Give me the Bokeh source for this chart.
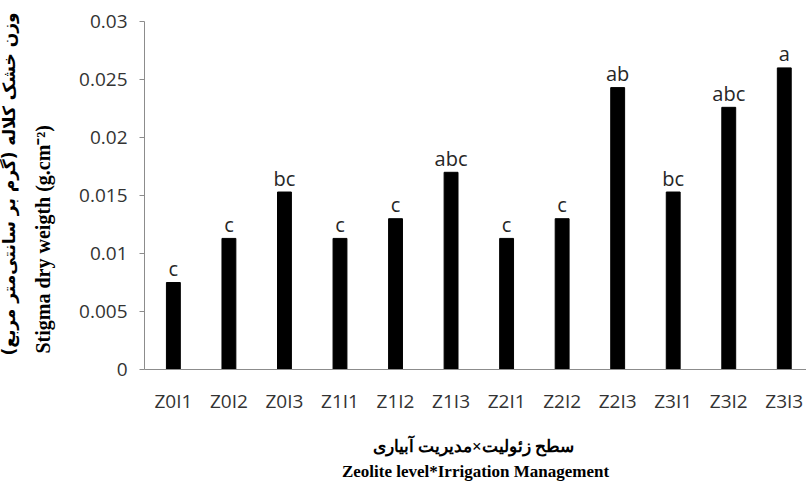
from bokeh.plotting import figure
from bokeh.models import Range1d, FixedTicker, Title
from bokeh.core.properties import value
from bokeh.embed import file_html
from bokeh.resources import INLINE

categories = ["Z0I1", "Z0I2", "Z0I3", "Z1I1", "Z1I2", "Z1I3",
              "Z2I1", "Z2I2", "Z2I3", "Z3I1", "Z3I2", "Z3I3"]
values = [0.0075, 0.0113, 0.0153, 0.0113, 0.0130, 0.0170,
          0.0113, 0.0130, 0.0243, 0.0153, 0.0226, 0.0260]
letters = ["c", "c", "bc", "c", "c", "abc", "c", "c", "ab", "bc", "abc", "a"]
y_ticks = [0, 0.005, 0.01, 0.015, 0.02, 0.025, 0.03]
y_tick_labels = ["0", "0.005", "0.01", "0.015", "0.02", "0.025", "0.03"]

y_title_fa = "وزن خشک کلاله (گرم بر سانتی‌متر مربع)"
y_title_en = "Stigma dry weigth (g.cm⁻²)"
x_title_fa = "سطح زئولیت×مدیریت  آبیاری"
x_title_en = "Zeolite level*Irrigation Management"

xs = list(range(len(categories)))

p = figure(width=806, height=483, output_backend="svg", toolbar_location=None,
           x_range=Range1d(-0.52, 11.40), y_range=Range1d(0, 0.03),
           min_border_left=144, min_border_right=0, min_border_top=21,
           min_border_bottom=112)
p.outline_line_color = None
p.grid.visible = False
p.background_fill_color = "white"
p.border_fill_color = "white"

p.vbar(x=xs, top=values, width=0.25, fill_color="black", line_color="black")
p.text(x=xs, y=values, text=letters, text_align="center", text_baseline="alphabetic",
       y_offset=-14, text_font=value("Open Sans"), text_font_size="20px",
       text_color="#262626")

ax = p.xaxis[0]
ax.ticker = FixedTicker(ticks=xs)
ax.major_label_overrides = {i: c for i, c in zip(xs, categories)}
ax.major_tick_line_color = None
ax.minor_tick_line_color = None
ax.axis_line_color = "#8c8c8c"
ax.major_label_text_font = "Open Sans"
ax.major_label_text_font_size = "19px"
ax.major_label_text_color = "#333333"
ax.major_label_standoff = 12
ax.axis_label = x_title_fa + "\n" + x_title_en
ax.axis_label_text_font = "Liberation Serif"
ax.axis_label_text_font_style = "bold"
ax.axis_label_text_font_size = "17px"
ax.axis_label_text_color = "black"
ax.axis_label_text_line_height = 1.32
ax.axis_label_standoff = 20

ay = p.yaxis[0]
ay.ticker = FixedTicker(ticks=y_ticks)
ay.major_label_overrides = {t: l for t, l in zip(y_ticks, y_tick_labels)}
ay.minor_tick_line_color = None
ay.major_tick_in = 0
ay.major_tick_out = 5
ay.major_tick_line_color = "#8c8c8c"
ay.axis_line_color = "#8c8c8c"
ay.major_label_text_font = "Open Sans"
ay.major_label_text_font_size = "19px"
ay.major_label_text_color = "#333333"
ay.major_label_standoff = 12

p.add_layout(Title(text=y_title_en, align="left", text_font="Liberation Serif",
                   text_font_size="20px", text_font_style="bold",
                   text_color="black", offset=16, standoff=46), "left")
p.add_layout(Title(text=y_title_fa, align="right", text_font="DejaVu Sans",
                   text_font_size="17px", text_font_style="bold",
                   text_color="black", offset=-9, standoff=-25), "left")

open("out.html", "w").write(file_html(p, INLINE))
